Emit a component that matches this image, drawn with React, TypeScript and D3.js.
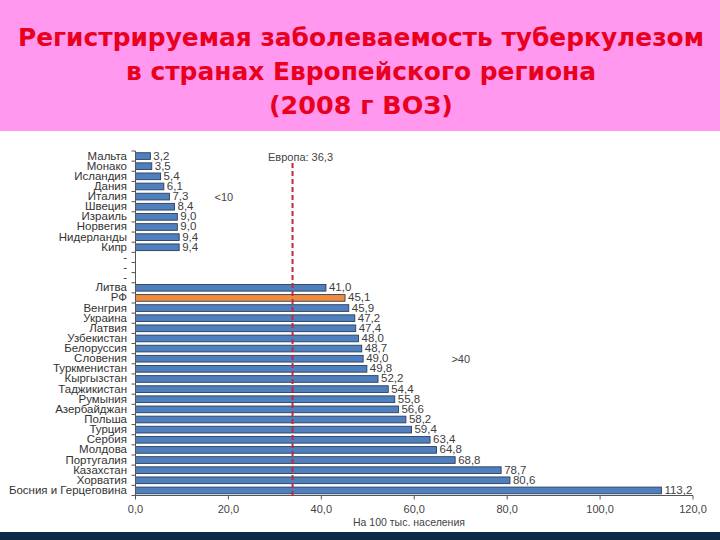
import React from "react";
import * as d3 from "d3";

const titleLines = [
  "Регистрируемая заболеваемость туберкулезом",
  "в странах Европейского региона",
  "(2008 г ВОЗ)",
];

const lowCountries = ["Мальта", "Монако", "Исландия", "Дания", "Италия", "Швеция", "Израиль", "Норвегия", "Нидерланды", "Кипр"];
const lowValues = [3.2, 3.5, 5.4, 6.1, 7.3, 8.4, 9.0, 9.0, 9.4, 9.4];

const gapRows = ["-1", "-2", "-3"];

const highCountries = [
  "Литва", "РФ", "Венгрия", "Украина", "Латвия", "Узбекистан", "Белоруссия", "Словения",
  "Туркменистан", "Кыргызстан", "Таджикистан", "Румыния", "Азербайджан", "Польша", "Турция",
  "Сербия", "Молдова", "Португалия", "Казахстан", "Хорватия", "Босния и Герцеговина",
];
const highValues = [41.0, 45.1, 45.9, 47.2, 47.4, 48.0, 48.7, 49.0, 49.8, 52.2, 54.4, 55.8, 56.6, 58.2, 59.4, 63.4, 64.8, 68.8, 78.7, 80.6, 113.2];

const highlighted = "РФ";
const xTicks = [0, 20, 40, 60, 80, 100, 120];
const europeLabel = "Европа: 36,3";
const europeLineAt = 33.8;
const xAxisTitle = "На 100 тыс. населения";
const groupNotes = [
  { text: "<10", value: 17, row: "Италия" },
  { text: ">40", value: 68, row: "Словения" },
];

const fmt = (v: number) => v.toFixed(1).replace(".", ",");

export default function App() {
  const rows = [...lowCountries, ...gapRows, ...highCountries];
  const data = [
    ...lowCountries.map((c, i) => ({ c, v: lowValues[i] })),
    ...highCountries.map((c, i) => ({ c, v: highValues[i] })),
  ];
  const x = d3.scaleLinear().domain([0, 120]).range([135.5, 693]);
  const y = d3.scaleBand<string>().domain(rows).range([151, 495.5]).paddingInner(0.34).paddingOuter(0.17);
  const step = y.step();
  const bw = y.bandwidth();
  const yc = (r: string) => (y(r) as number) + bw / 2;
  const axisY = 495.5;
  const font = "'Liberation Sans', Arial, sans-serif";

  return (
    <svg width={720} height={540} style={{ position: "absolute", left: 0, top: 0, display: "block", background: "#fff" }}>
      <rect x={0} y={0} width={720} height={131} fill="#FF98EE" />
      {titleLines.map((t, i) => (
        <text key={i} x={361} y={46 + i * 34} textAnchor="middle" fill="#E8001E"
          fontFamily="'DejaVu Sans', sans-serif" fontWeight="bold" fontSize={25}
          textLength={[686, 470, 184][i]} lengthAdjust="spacingAndGlyphs">{t}</text>
      ))}

      {/* bars */}
      {data.map((d) => (
        <rect key={d.c} x={x(0)} y={y(d.c)} width={x(d.v) - x(0)} height={bw}
          fill={d.c === highlighted ? "#F28C3C" : "#4F7FBD"} stroke="#2A3F5F" strokeWidth={0.9} />
      ))}
      {data.map((d) => (
        <g key={"v" + d.c} transform={`translate(${x(d.v) + 3},${yc(d.c) + 3.5}) scale(1.15,1)`}>
          <text x={0} y={0} fontFamily={font} fontSize={10} fill="#404040">{fmt(d.v)}</text>
        </g>
      ))}

      {/* y axis */}
      <line x1={x(0)} x2={x(0)} y1={151} y2={axisY} stroke="#555" strokeWidth={1} />
      {d3.range(rows.length + 1).map((i) => (
        <line key={"yt" + i} x1={x(0) - 4} x2={x(0)} y1={151 + i * step} y2={151 + i * step} stroke="#555" />
      ))}
      {rows.map((r) => (
        <g key={"l" + r} transform={`translate(127,${yc(r) + 3.5}) scale(1.15,1)`}>
          <text x={0} y={0} textAnchor="end" fontFamily={font} fontSize={10} fill="#333">
            {r.startsWith("-") ? "-" : r}
          </text>
        </g>
      ))}

      {/* x axis */}
      <line x1={x(0)} x2={x(120)} y1={axisY} y2={axisY} stroke="#555" />
      {xTicks.map((t) => (
        <g key={"xt" + t}>
          <line x1={x(t)} x2={x(t)} y1={axisY} y2={axisY + 4} stroke="#555" />
          <text x={x(t)} y={axisY + 17} textAnchor="middle" fontFamily={font} fontSize={11} fill="#444">{fmt(t)}</text>
        </g>
      ))}
      <text x={409} y={526} textAnchor="middle" fontFamily={font} fontSize={10.5} fill="#444">{xAxisTitle}</text>

      {/* Europe line */}
      <line x1={x(europeLineAt)} x2={x(europeLineAt)} y1={163} y2={axisY + 2} stroke="#C0283C" strokeWidth={2} strokeDasharray="5,3" />
      <text x={x(europeLineAt) + 8} y={161} textAnchor="middle" fontFamily={font} fontSize={11} fill="#444">{europeLabel}</text>

      {groupNotes.map((n) => (
        <text key={n.text} x={x(n.value)} y={yc(n.row) + 4} fontFamily={font} fontSize={11} fill="#444">{n.text}</text>
      ))}

      <rect x={0} y={532} width={720} height={8} fill="#0B2A48" />
    </svg>
  );
}
